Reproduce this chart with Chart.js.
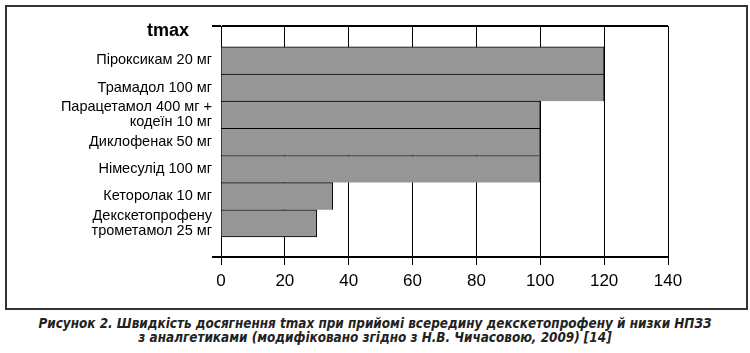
<!DOCTYPE html>
<html lang="uk">
<head>
  <meta charset="UTF-8">
  <title>tmax</title>
  <script src="https://cdn.jsdelivr.net/npm/chart.js"></script>
  <style>
    body { margin: 0; background: #fff; width: 750px; height: 353px; position: relative; overflow: hidden; }
    #frame { position: absolute; left: 5px; top: 5px; width: 739px; height: 301px; border: 2px solid #333; }
    #chart { position: absolute; left: 0; top: 0; }
    #ttl { position: absolute; left: 147px; top: 21px; font: bold 18px "Liberation Sans", Arial, sans-serif; line-height: 18px; }
    #caption { position: absolute; left: 0; top: 317px; width: 750px; text-align: center;
      font: italic bold 13.4px "Liberation Sans Narrow", "DejaVu Sans Condensed", sans-serif; line-height: 13.5px; color: #222; }
  </style>
</head>
<body>
  <div id="frame"></div>
  <canvas id="chart" width="750" height="300"></canvas>
  <div id="ttl">tmax</div>
  <div id="caption">Рисунок 2. Швидкість досягнення tmax при прийомі всередину декскетопрофену й низки НПЗЗ<br>з аналгетиками (модифіковано згідно з Н.В. Чичасовою, 2009) [14]</div>

  <script>
    const drugs = [
      'Піроксикам 20 мг',
      'Трамадол 100 мг',
      ['Парацетамол 400 мг +', 'кодеїн 10 мг'],
      'Диклофенак 50 мг',
      'Німесулід 100 мг',
      'Кеторолак 10 мг',
      ['Декскетопрофену', 'трометамол 25 мг']
    ];
    const tmax = [120, 120, 100, 100, 100, 35, 30];
    const xTicks = [0, 20, 40, 60, 80, 100, 120, 140];

    const last = tmax.length - 1;
    // only the top and bottom edge of the y scale get a line + tick
    const isEdge = (c) => c.index === 0 || c.index === c.scale.ticks.length - 1;

    new Chart(document.getElementById('chart'), {
      type: 'bar',
      data: {
        datasets: [{
          data: tmax.map((v, i) => ({ x: v, y: i })),
          backgroundColor: '#969696',
          borderColor: '#000',
          borderWidth: (c) => ({ top: 1, right: 1, left: 0, bottom: c.dataIndex === last ? 1 : 0 }),
          borderSkipped: false,
          barPercentage: 1,
          categoryPercentage: 1
        }]
      },
      options: {
        indexAxis: 'y',
        responsive: false,
        animation: false,
        layout: { padding: { top: 26, right: 82, left: 0, bottom: 0 } },
        plugins: { legend: { display: false }, tooltip: { enabled: false } },
        scales: {
          x: {
            type: 'linear',
            min: xTicks[0],
            max: xTicks[xTicks.length - 1],
            afterBuildTicks: (s) => { s.ticks = xTicks.map(v => ({ value: v })); },
            afterFit: (s) => { s.height = 43; },
            ticks: { color: '#000', padding: 6, font: { family: 'Liberation Sans', size: 17 } },
            grid: { color: '#000', lineWidth: 1, tickLength: 8 },
            border: { color: '#000', width: 2 }
          },
          y: {
            type: 'linear',
            reverse: true,
            offset: false,
            min: -1.27,
            max: 7.24,
            afterBuildTicks: (s) => {
              s.ticks = [{ value: s.min }, ...drugs.map((d, i) => ({ value: i })), { value: s.max }];
            },
            afterFit: (s) => { s.width = 221; },
            ticks: {
              autoSkip: false,
              color: '#000',
              padding: 0,
              font: { family: 'Liberation Sans', size: 14.5, lineHeight: '15px' },
              callback: (v) => Number.isInteger(v) && drugs[v] !== undefined ? drugs[v] : ''
            },
            grid: {
              offset: false,
              color: (c) => isEdge(c) ? '#000' : 'rgba(0,0,0,0)',
              tickLength: 9,
              lineWidth: 2
            },
            border: { color: '#000', width: 1 }
          }
        }
      }
    });
  </script>
</body>
</html>
